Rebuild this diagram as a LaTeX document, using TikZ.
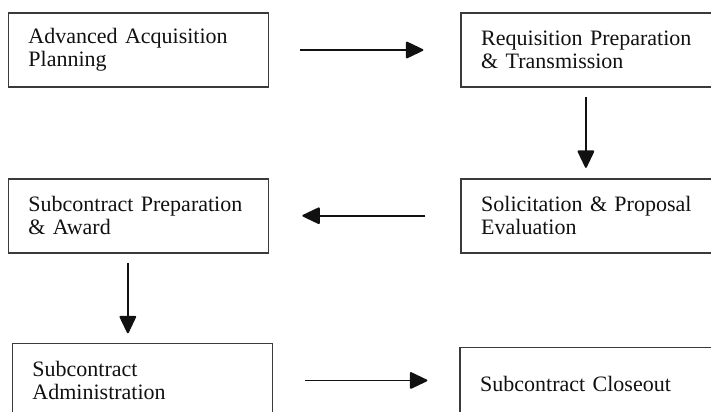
\documentclass[tikz,border=0pt]{standalone}
\usepackage{fontspec}
\setmainfont{Liberation Serif}
\usepackage{xcolor}
\usepackage{tikz}
\usetikzlibrary{arrows.meta, positioning}
\definecolor{ink}{HTML}{111111}
\definecolor{rule}{HTML}{3A3A3A}

\begin{document}
\begin{tikzpicture}[x=0.75pt, y=-0.75pt,
      box/.style={draw=rule, line width=1.3pt, fill=white, align=left,
                  minimum width=195pt, minimum height=55.5pt, inner xsep=15pt,
                  text width=165pt, font=\fontsize{16.5}{17.5}\selectfont\color{ink}},
      arr/.style={-{Triangle[length=14pt, width=13pt, round]}, draw=ink, line width=1.4pt}]
    \useasboundingbox (0,0) rectangle (711,411);
    \clip (0,0) rectangle (711,411);

    \node[box] (plan) at (138.5,50) {Advanced Acquisition\\Planning};
    \node[box, right=143.25pt of plan] (req) {Requisition Preparation\\\& Transmission};
    \node[box, below=67.5pt of req] (solic) {Solicitation \& Proposal\\Evaluation};
    \node[box, left=143.25pt of solic] (award) {Subcontract Preparation\\\& Award};
    \node[box, below=66.75pt of award, xshift=3pt] (admin) {Subcontract\\Administration};
    \node[box, right=139.5pt of admin, yshift=-3pt] (close) {Subcontract Closeout};

    \draw[arr, shorten <=23.25pt, shorten >=27.75pt] (plan.east) -- (req.west);
    \draw[arr, shorten <=6.75pt, shorten >=7.5pt] ([xshift=-4pt]req.south) -- ([xshift=-4pt]solic.north);
    \draw[arr, shorten <=26.25pt, shorten >=24.75pt] (solic.west) -- (award.east);
    \draw[arr, shorten <=7pt, shorten >=7pt] ([xshift=-8pt]award.south) -- ([xshift=-11pt]admin.north);
    \draw[arr, shorten <=24pt, shorten >=24pt] (admin.east) -- (admin.east -| close.west);
  \end{tikzpicture}
\end{document}
